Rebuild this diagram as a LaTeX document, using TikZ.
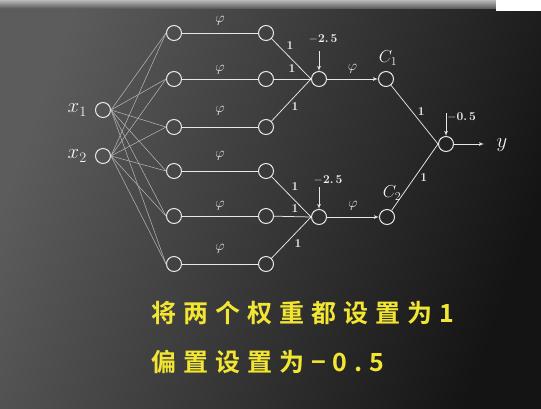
\documentclass[tikz,border=0pt]{standalone}
\usepackage{fontspec}
\newfontfamily\cjk[LetterSpace=28,BoldFont={Noto Sans CJK SC Bold}]{Noto Sans CJK SC}
\usetikzlibrary{arrows}

\definecolor{bgl}{RGB}{92,92,92}
\definecolor{bgr}{RGB}{20,20,20}
\definecolor{stripT}{RGB}{185,185,185}
\definecolor{stripB}{RGB}{95,95,95}
\definecolor{lineg}{RGB}{232,232,232}
\definecolor{thing}{RGB}{178,178,178}
\definecolor{txt}{RGB}{242,242,242}
\definecolor{yel}{RGB}{242,230,50}

\begin{document}
\begin{tikzpicture}[x=1pt,y=-1pt]

\tikzset{neuron/.style = {shape=circle,draw=lineg,line width=1pt,minimum size=15pt,inner sep=0pt}}
\tikzset{edge/.style = {draw=lineg,line width=0.75pt}}
\tikzset{inedge/.style = {draw=thing,line width=0.55pt}}
\tikzset{arr/.style = {edge,->,> = latex'}}
\tikzset{wt/.style = {text=txt,inner sep=0pt,font=\fontsize{12}{13}\selectfont\bfseries}}
\tikzset{phi/.style = {text=txt,inner sep=0pt,font=\fontsize{14}{15}\selectfont}}
\tikzset{big/.style = {text=txt,inner sep=0pt,font=\fontsize{20}{22}\selectfont}}
\tikzset{note/.style = {text=yel,inner sep=0pt,anchor=west,font=\cjk\bfseries\fontsize{25}{30}\selectfont}}

\useasboundingbox (0,0) rectangle (541,408);
%background
\shade[left color=bgl,right color=bgr,shading angle=70] (0,0) rectangle (541,408);
\shade[top color=stripT,bottom color=stripB] (0,0) rectangle (541,8);
\fill[white] (496,0) rectangle (541,11);

%verticies
\node[neuron, label={[big,xshift=-8pt]left:$x_1$}] (x1) at (103,110) {};
\node[neuron, label={[big,xshift=-8pt]left:$x_2$}] (x2) at (103,156) {};
\node[neuron] (a1) at (174,33) {};
\node[neuron] (a2) at (174,79) {};
\node[neuron] (a3) at (174,127) {};
\node[neuron] (a4) at (174,171) {};
\node[neuron] (a5) at (174,216) {};
\node[neuron] (a6) at (174,264) {};
\node[neuron] (b1) at (266,33) {};
\node[neuron] (b2) at (266,79) {};
\node[neuron] (b3) at (266,127) {};
\node[neuron] (b4) at (266,171) {};
\node[neuron] (b5) at (266,216) {};
\node[neuron] (b6) at (266,264) {};
\node[neuron] (s1) at (319,79) {};
\node[neuron] (s2) at (319,217) {};
\node[neuron] (c1) at (386,79) {};
\node[neuron] (c2) at (387,217) {};
\node[neuron] (o) at (446,144) {};
\node[phi, font=\fontsize{17}{18}\selectfont] (lc1) at (388,58) {$C_1$};
\node[phi, font=\fontsize{17}{18}\selectfont] (lc2) at (392,193) {$C_2$};
\node[big] (y) at (502,145) {$y$};
\coordinate (yend) at (484,144);
%bias
\node[wt] (bias1) at (323,39) {$-$2.\,5};
\node[wt] (bias2) at (328,180) {$-$2.\,5};
\node[wt, anchor=west] (bias3) at (447,117) {$-$0.\,5};
\coordinate (t1) at (319,51);
\coordinate (t2) at (319,187);
\coordinate (t3) at (446,113);

%edges
\draw[inedge] (x1.east) -- (a1.west);
\draw[inedge] (x1.east) -- (a2.west);
\draw[inedge] (x1.east) -- (a3.west);
\draw[inedge] (x1.east) -- (a4.west);
\draw[inedge] (x1.east) -- (a5.west);
\draw[inedge] (x1.east) -- (a6.west);
\draw[inedge] (x2.east) -- (a1.west);
\draw[inedge] (x2.east) -- (a2.west);
\draw[inedge] (x2.east) -- (a3.west);
\draw[inedge] (x2.east) -- (a4.west);
\draw[inedge] (x2.east) -- (a5.west);
\draw[inedge] (x2.east) -- (a6.west);
\draw[edge] (a1) -- (b1) node[phi, midway, yshift=12] {$\varphi$};
\draw[edge] (a2) -- (b2) node[phi, midway, yshift=9] {$\varphi$};
\draw[edge] (a3) -- (b3) node[phi, midway, yshift=16] {$\varphi$};
\draw[edge] (a4) -- (b4) node[phi, midway, yshift=15] {$\varphi$};
\draw[edge] (a5) -- (b5) node[phi, midway, yshift=10] {$\varphi$};
\draw[edge] (a6) -- (b6) node[phi, midway, yshift=15] {$\varphi$};
\draw[edge] (b1) -- (s1.west);
\draw[edge] (b2) -- (s1.west);
\draw[edge] (b3) -- (s1.west);
\draw[edge] (b4) -- (s2.west);
\draw[edge] (b5) -- (s2.west);
\draw[edge] (b6) -- (s2.west);
\node[wt] (w1) at (290,46) {1};
\node[wt] (w2) at (292,69) {1};
\node[wt] (w3) at (295,107) {1};
\node[wt] (w4) at (295,187) {1};
\node[wt] (w5) at (295,209) {1};
\node[wt] (w6) at (298,244) {1};
\draw[arr] (s1) -- (c1) node[phi, midway, yshift=10] {$\varphi$};
\draw[arr] (s2) -- (c2) node[phi, midway, yshift=11] {$\varphi$};
\draw[edge] (c1) -- (o.west) node[wt, pos=0.45, xshift=9] {1};
\draw[edge] (c2) -- (o.west) node[wt, pos=0.5, xshift=9] {1};
\draw[arr] (t1) -- (s1);
\draw[arr] (t2) -- (s2);
\draw[arr] (t3) -- (o);
\draw[arr] (o) -- (yend);

%text
\node[note] (n1) at (151,313) {将两个权重都设置为1};
\node[note] (n2) at (151,362) {偏置设置为−0.5};

\end{tikzpicture}
\end{document}
